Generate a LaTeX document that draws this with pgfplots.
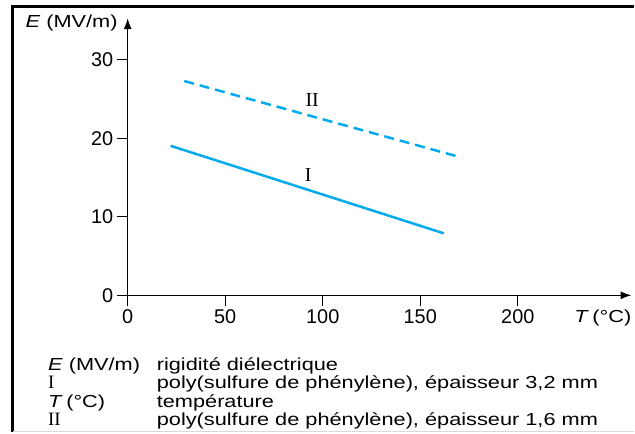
\documentclass[border=0pt]{standalone}
\usepackage{pgfplots}
\pgfplotsset{compat=1.18}
\usetikzlibrary{arrows.meta}
\usepackage{fontspec}
\setmainfont{Liberation Sans}
\newfontfamily\romanfont{Liberation Serif}
\definecolor{cyanline}{RGB}{0,170,236}
\newcommand\chartfont{\fontsize{20}{24}\selectfont}
\newcommand\keyfont{\fontsize{17.5}{21}\selectfont}
\newcommand\wide[1]{\scalebox{1.25}[1]{#1}}

\begin{document}
\begin{tikzpicture}
% page size and frame
\path (0bp,0bp) rectangle (635bp,-435bp);
\draw[line width=3bp] (13bp,-433bp) -- (13bp,-7bp) -- (635bp,-7bp);
\draw[black!15, line width=1bp] (13bp,-433bp) -- (635bp,-433bp);

\begin{axis}[
  at={(128bp,-296bp)}, anchor=origin,
  x=1.955bp, y=7.867bp,
  xmin=0, xmax=258.3, ymin=0, ymax=35.3,
  axis lines=left,
  axis line style={line width=1.2bp, -{Latex[length=11bp,width=8bp]}},
  xtick={0,50,100,150,200}, ytick={0,10,20,30},
  tick align=outside, major tick length=11bp,
  tick style={line width=1.2bp, black},
  ticklabel style={font=\chartfont},
  /pgf/number format/assume math mode=true,
  clip=false,
]
\addplot[cyanline, line width=2.5bp] coordinates {(22,19.05) (162,7.9)};
\addplot[cyanline, line width=2.5bp, dash pattern=on 10bp off 6bp] coordinates {(29,27.3) (169,17.7)};
\node[font=\fontsize{20}{24}\romanfont] at (axis cs:92.6,15.3) {I};
\node[font=\fontsize{20}{24}\romanfont] at (axis cs:94.6,24.9) {II};
\end{axis}

% axis titles
\node[anchor=base east, font=\keyfont, inner sep=0pt] at (118bp,-28bp) {\wide{\textit{E} (MV/m)}};
\node[anchor=base east, font=\keyfont, inner sep=0pt] at (633bp,-323bp) {\wide{\textit{T}\,(°C)}};

% key below the chart
\begin{scope}[every node/.style={anchor=base west, font=\keyfont, inner sep=0pt}]
\node at (48bp,-371bp) {\wide{\textit{E} (MV/m)}};
\node at (157bp,-371bp) {\wide{rigidité diélectrique}};
\node[font=\fontsize{19}{22}\romanfont] at (48bp,-389.5bp) {I};
\node at (157bp,-389.5bp) {\wide{poly(sulfure de phénylène), épaisseur 3,2 mm}};
\node at (48bp,-408bp) {\wide{\textit{T}\,(°C)}};
\node at (157bp,-408bp) {\wide{température}};
\node[font=\fontsize{19}{22}\romanfont] at (48bp,-426.5bp) {II};
\node at (157bp,-426.5bp) {\wide{poly(sulfure de phénylène), épaisseur 1,6 mm}};
\end{scope}
\end{tikzpicture}
\end{document}
